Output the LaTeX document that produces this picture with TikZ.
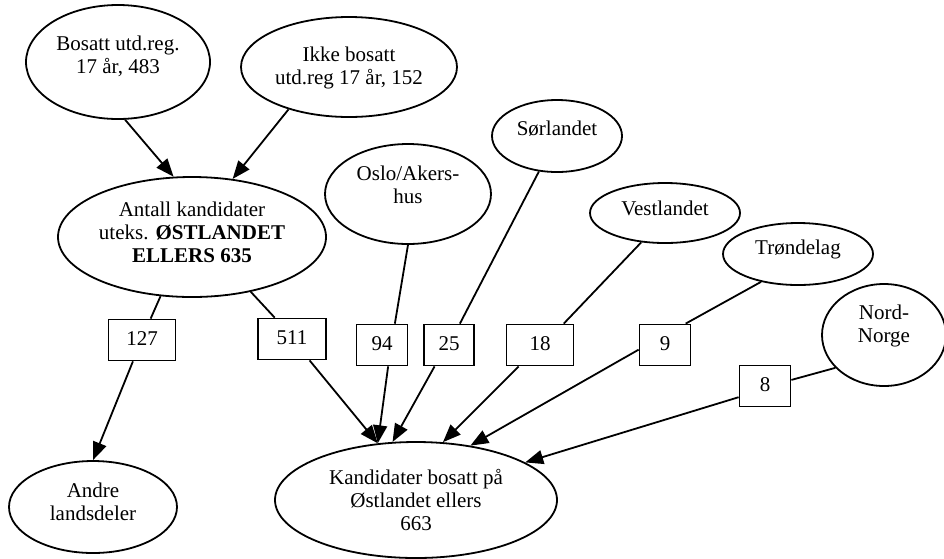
\documentclass[tikz,border=0pt]{standalone}
\usepackage{fontspec}
\setmainfont{Liberation Serif}
\usetikzlibrary{shapes.geometric,arrows.meta}
\begin{document}
\begin{tikzpicture}[x=1pt,y=-1pt,
  region/.style={draw, ellipse, line width=1.8pt, inner sep=0pt},
  count/.style={draw, rectangle, line width=1.8pt, inner sep=0pt,
    minimum height=41pt, text depth=3pt, font=\fontsize{21}{23}\selectfont},
  txt/.style={align=center, inner sep=0pt, font=\fontsize{21}{23}\selectfont},
  flow/.style={line width=1.8pt},
  arr/.style={flow, -{Triangle[length=18pt,width=14pt]}}]
\useasboundingbox (0,0) rectangle (944,558);

% regions
\node[region, minimum width=184pt, minimum height=114pt] (bosatt) at (118,62) {};
\node[txt] (bosatt-t) at (118,56) {Bosatt utd.reg.\\17 år, 483};
\node[region, minimum width=216pt, minimum height=100pt] (ikke) at (349,67) {};
\node[txt] (ikke-t) at (349,68) {Ikke bosatt\\utd.reg 17 år, 152};
\node[region, minimum width=268pt, minimum height=120pt] (antall) at (192,237) {};
\node[txt] (antall-t) at (192,232) {Antall kandidater\\uteks. \textbf{ØSTLANDET}\\\textbf{ELLERS 635}};
\node[region, minimum width=166pt, minimum height=100pt] (oslo) at (408,194) {};
\node[txt] (oslo-t) at (408,185) {Oslo/Akers-\\hus};
\node[region, minimum width=130pt, minimum height=72pt] (sor) at (557,136) {};
\node[txt] (sor-t) at (557,129) {Sørlandet};
\node[region, minimum width=150pt, minimum height=60pt] (vest) at (665,213) {};
\node[txt] (vest-t) at (665,208) {Vestlandet};
\node[region, minimum width=150pt, minimum height=62pt] (trond) at (798,254) {};
\node[txt] (trond-t) at (798,249) {Trøndelag};
\node[region, minimum width=124pt, minimum height=102pt] (nord) at (884,335) {};
\node[txt] (nord-t) at (884,326) {Nord-\\Norge};
\node[region, minimum width=168pt, minimum height=92pt] (andre) at (93,507) {};
\node[txt] (andre-t) at (93,502) {Andre\\landsdeler};
\node[region, minimum width=282pt, minimum height=116pt] (kand) at (416,500) {};
\node[txt] (kand-t) at (416,500) {Kandidater bosatt på\\Østlandet ellers\\663};

% counts
\node[count, minimum width=67pt] (b127) at (142,340) {127};
\node[count, minimum width=68pt] (b511) at (292,339) {511};
\node[count, minimum width=51pt] (b94) at (382,345) {94};
\node[count, minimum width=50pt] (b25) at (449,345) {25};
\node[count, minimum width=67pt] (b18) at (540,345) {18};
\node[count, minimum width=51pt] (b9) at (665,345) {9};
\node[count, minimum width=51pt] (b8) at (765,386) {8};

% flows
\draw[arr] (bosatt.-83) -- (antall.107);
\draw[arr] (ikke.-145) -- (antall.55);
\draw[flow] (antall.-118) -- (b127.68);
\draw[arr] (b127.-113) -- (andre.north);
\draw[flow] (antall.-43) -- (b511.129);
\draw[arr] (b511) -- (kand.124);
\draw[flow] (oslo.south) -- (b94.59);
\draw[arr] (b94.-74) -- (kand.124);
\draw[flow] (sor.-117) -- (b25.63);
\draw[arr] (b25.-124) -- (kand.112);
\draw[flow] (vest.-129) -- (b18.42);
\draw[arr] (b18) -- (kand.65);
\draw[flow] (trond.-143) -- (b9.46);
\draw[arr] (b9.-170) -- (kand.45);
\draw[flow] (nord.-146) -- (b8.13);
\draw[arr] (b8.-157) -- (kand.19);
\end{tikzpicture}
\end{document}
